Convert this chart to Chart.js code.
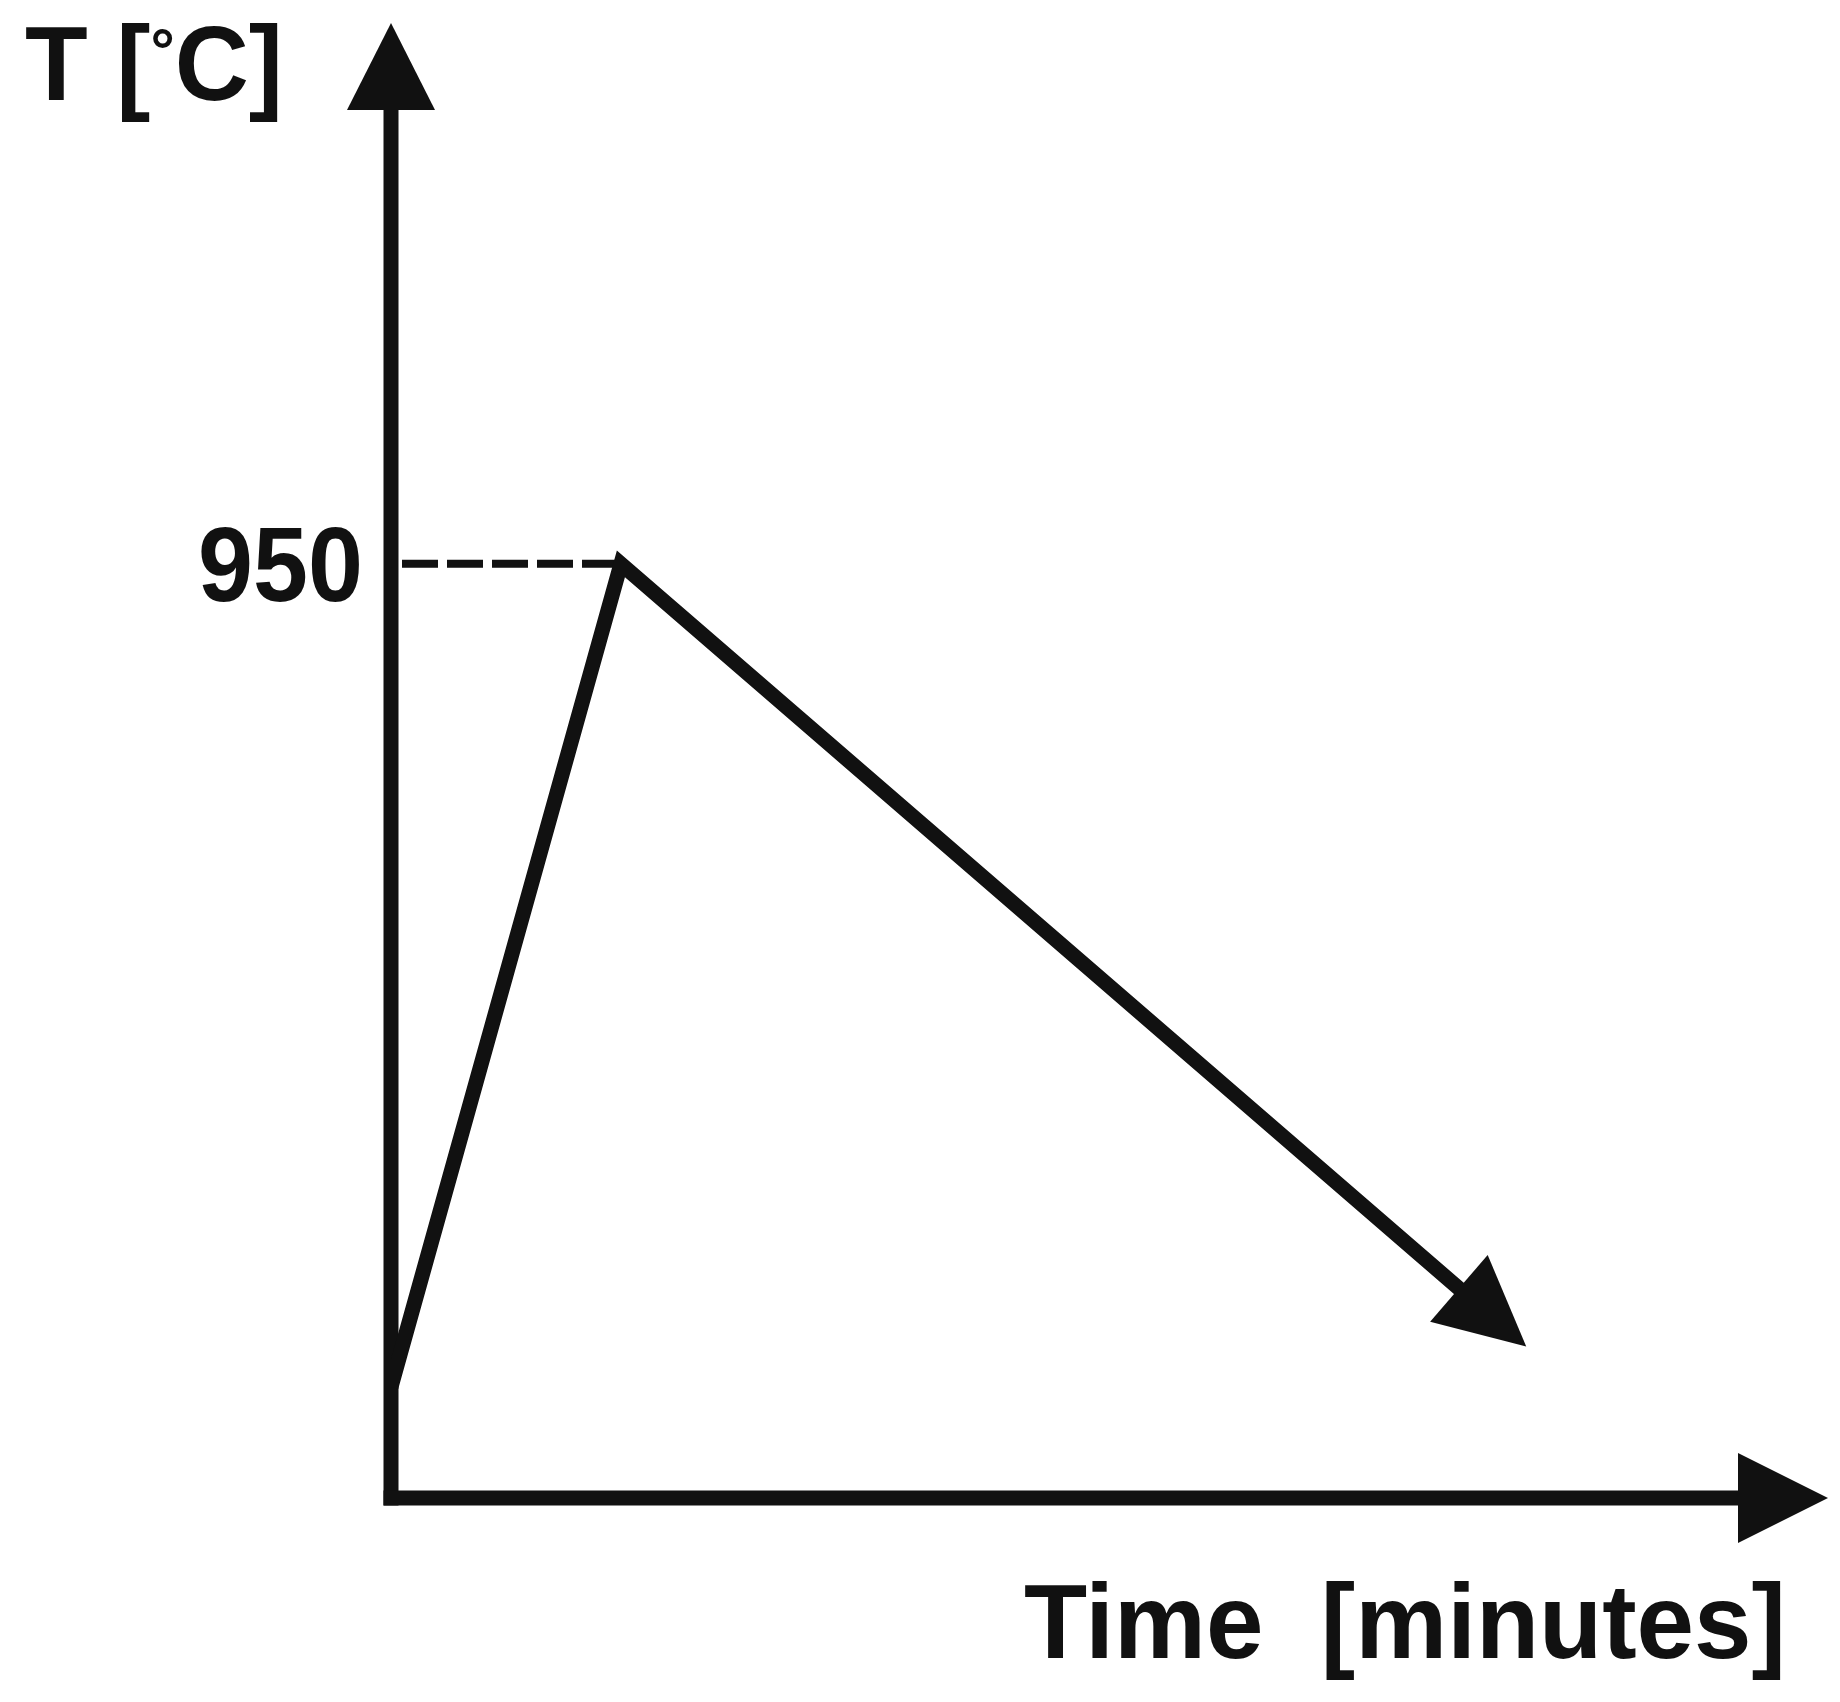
<!DOCTYPE html>
<html>
<head>
<meta charset="utf-8">
<title>Heat treatment cycle</title>
<script src="https://cdn.jsdelivr.net/npm/chart.js@4.4.1/dist/chart.umd.min.js"></script>
<style>
  body { margin: 0; background: #fff; }
  #wrap { width: 1840px; height: 1702px; }
</style>
</head>
<body>
<div id="wrap"><canvas id="myChart" width="1840" height="1702"></canvas></div>
<script>
// values (time in arbitrary minutes, temperature in C)
var timeValues = [0, 16, 79];
var tempValues = [113, 950, 154];
var yTickValues = [950];
var timeRange = [0, 100];
var tempRange = [0, 1500];
// y title is drawn in pieces so the degree sign can be small
var yTitleParts = ["T [", "\u00b0", "C]"];
var xTitle = "Time  [minutes]";

var ink = "#111111";
var fontName = "'Liberation Sans', Arial, sans-serif";
var labelFont = "bold 105px " + fontName;
var degreeFont = "bold 62px " + fontName;

function toPoints(xs, ys) {
    var pts = [];
    for (var i = 0; i < xs.length; i++) {
        pts.push({x: xs[i], y: ys[i]});
    }
    return pts;
}

// the dashed guide goes from the axis over to the peak
var peakIndex = tempValues.indexOf(Math.max.apply(null, tempValues));
var guidePoints = [
    {x: timeRange[0], y: tempValues[peakIndex]},
    {x: timeValues[peakIndex], y: tempValues[peakIndex]}
];

function triangle(ctx, tip, dir, len, half) {
    var bx = tip.x - dir.x * len, by = tip.y - dir.y * len;
    var nx = -dir.y, ny = dir.x;
    ctx.beginPath();
    ctx.moveTo(tip.x, tip.y);
    ctx.lineTo(bx + nx * half, by + ny * half);
    ctx.lineTo(bx - nx * half, by - ny * half);
    ctx.closePath();
    ctx.fill();
}

function lastDir(meta) {
    var n = meta.data.length;
    var a = meta.data[n - 2], b = meta.data[n - 1];
    var dx = b.x - a.x, dy = b.y - a.y;
    var l = Math.sqrt(dx * dx + dy * dy);
    return {tip: {x: b.x, y: b.y}, dir: {x: dx / l, y: dy / l}};
}

function drawYTitle(ctx, left, baseline, width) {
    var fonts = [labelFont, degreeFont, labelFont];
    var shifts = [0, -28, 0];
    var widths = [], total = 0;
    for (var i = 0; i < yTitleParts.length; i++) {
        ctx.font = fonts[i];
        widths.push(ctx.measureText(yTitleParts[i]).width);
        total += widths[i];
    }
    ctx.save();
    ctx.translate(left, baseline);
    ctx.scale(width / total, 1);
    var x = 0;
    for (var j = 0; j < yTitleParts.length; j++) {
        ctx.font = fonts[j];
        ctx.fillText(yTitleParts[j], x, shifts[j]);
        x += widths[j];
    }
    ctx.restore();
}

var arrowLen = 89;

var sketchPlugin = {
    id: "sketch",
    beforeDatasetsDraw: function(chart) {
        var ctx = chart.ctx;
        var xs = chart.scales.x, ys = chart.scales.y;
        var x0 = xs.getPixelForValue(timeRange[0]);
        var y0 = ys.getPixelForValue(tempRange[0]);
        var xEnd = xs.getPixelForValue(timeRange[1]);
        var yEnd = ys.getPixelForValue(tempRange[1]);
        ctx.save();
        ctx.fillStyle = ink;
        ctx.strokeStyle = ink;
        ctx.lineWidth = 15;
        ctx.lineCap = "butt";
        // y axis
        ctx.beginPath();
        ctx.moveTo(x0, y0 + 7.5);
        ctx.lineTo(x0, yEnd + 80);
        ctx.stroke();
        triangle(ctx, {x: x0, y: yEnd}, {x: 0, y: -1}, 87, 44);
        // x axis
        ctx.beginPath();
        ctx.moveTo(x0 - 7.5, y0);
        ctx.lineTo(xEnd - 85, y0);
        ctx.stroke();
        triangle(ctx, {x: xEnd, y: y0}, {x: 1, y: 0}, 90, 45);
        ctx.restore();
    },
    beforeDatasetDraw: function(chart, args) {
        if (args.index !== 0) return;
        // keep the thick line from poking out of the arrow head
        var ctx = chart.ctx;
        var a = lastDir(chart.getDatasetMeta(0));
        var bx = a.tip.x - a.dir.x * (arrowLen - 20), by = a.tip.y - a.dir.y * (arrowLen - 20);
        var nx = -a.dir.y, ny = a.dir.x, big = 4000;
        ctx.save();
        ctx.beginPath();
        ctx.moveTo(bx + nx * big, by + ny * big);
        ctx.lineTo(bx - nx * big, by - ny * big);
        ctx.lineTo(bx - nx * big - a.dir.x * big, by - ny * big - a.dir.y * big);
        ctx.lineTo(bx + nx * big - a.dir.x * big, by + ny * big - a.dir.y * big);
        ctx.closePath();
        ctx.clip();
    },
    afterDatasetDraw: function(chart, args) {
        if (args.index !== 0) return;
        chart.ctx.restore();
    },
    afterDatasetsDraw: function(chart) {
        var ctx = chart.ctx;
        var xs = chart.scales.x, ys = chart.scales.y;
        var x0 = xs.getPixelForValue(timeRange[0]);
        var y0 = ys.getPixelForValue(tempRange[0]);
        var xEnd = xs.getPixelForValue(timeRange[1]);
        var a = lastDir(chart.getDatasetMeta(0));
        ctx.save();
        ctx.fillStyle = ink;
        triangle(ctx, a.tip, a.dir, arrowLen, 44);

        ctx.font = labelFont;
        ctx.textBaseline = "alphabetic";
        // tick label(s) on the temperature axis
        ctx.textAlign = "right";
        yTickValues.forEach(function(v) {
            ctx.fillText(String(v), x0 - 28, ys.getPixelForValue(v) + 37.5, 165);
        });
        // axis titles
        ctx.textAlign = "left";
        drawYTitle(ctx, 25, 100, 258);
        ctx.font = labelFont;
        ctx.textAlign = "right";
        ctx.fillText(xTitle, xEnd - 42, y0 + 160, 762);
        ctx.restore();
    }
};

var ctx = document.getElementById("myChart").getContext("2d");
var myChart = new Chart(ctx, {
    type: "line",
    data: {
        datasets: [{
            label: "Temperature",
            data: toPoints(timeValues, tempValues),
            borderColor: ink,
            borderWidth: 15,
            borderJoinStyle: "miter",
            borderCapStyle: "butt",
            pointRadius: 0,
            fill: false,
            tension: 0
        }, {
            label: "Peak",
            data: guidePoints,
            borderColor: ink,
            borderWidth: 8,
            borderDash: [36, 9],
            borderDashOffset: 34,
            pointRadius: 0,
            fill: false
        }]
    },
    options: {
        responsive: false,
        animation: false,
        layout: {
            padding: {left: 391, right: 12, top: 23, bottom: 204}
        },
        plugins: {
            legend: {display: false},
            tooltip: {enabled: false}
        },
        scales: {
            x: {type: "linear", min: timeRange[0], max: timeRange[1], display: false},
            y: {type: "linear", min: tempRange[0], max: tempRange[1], display: false}
        }
    },
    plugins: [sketchPlugin]
});
</script>
</body>
</html>
